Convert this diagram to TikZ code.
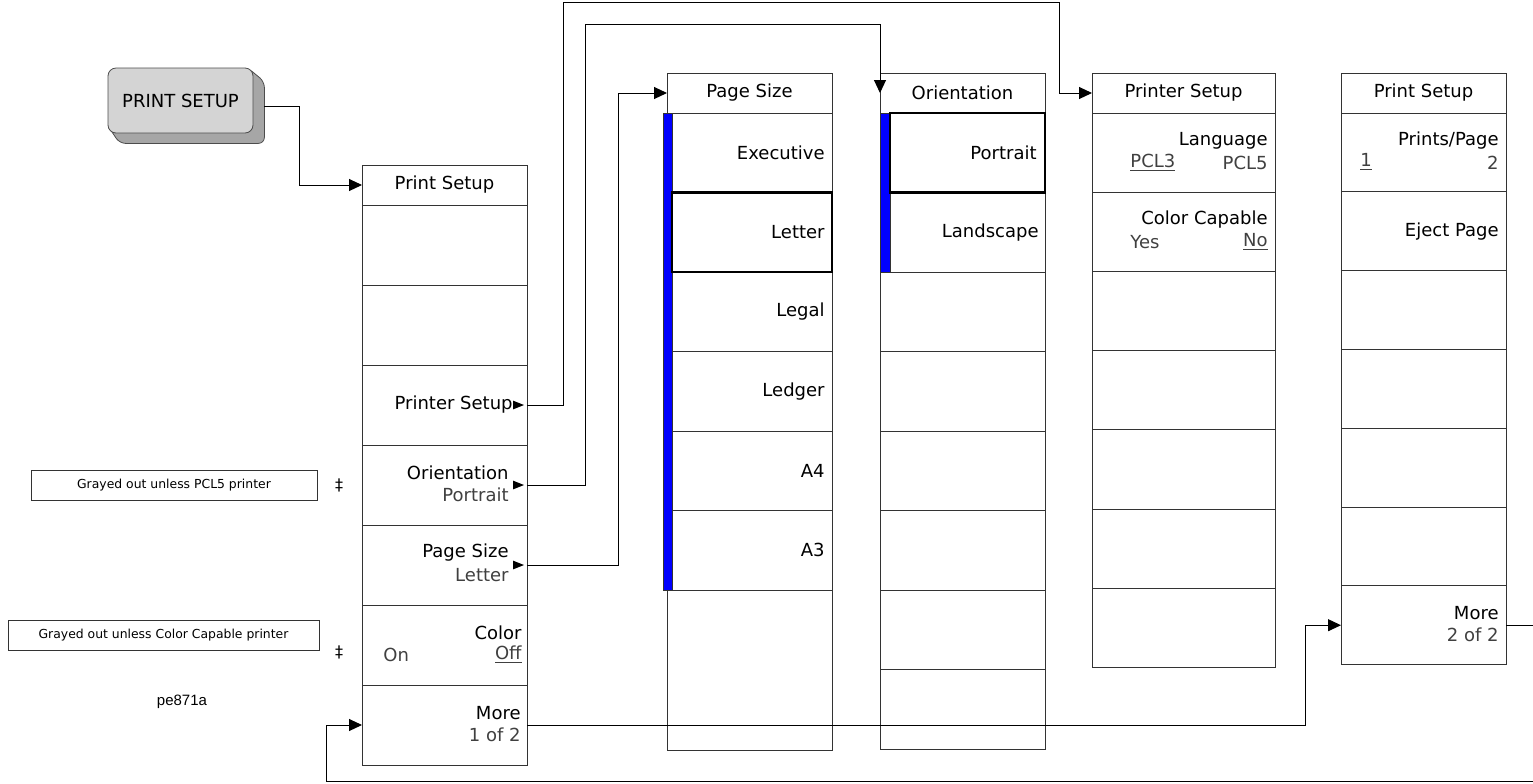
\documentclass[tikz,border=0pt]{standalone}
\usepackage{fontspec}
\setmainfont{DejaVu Sans}
\newfontfamily\figfont{Liberation Sans}
\usepackage{tikz}
\usetikzlibrary{arrows.meta, positioning, backgrounds}

\definecolor{keyface}{HTML}{D4D4D4}
\definecolor{keyshade}{HTML}{A6A6A6}
\definecolor{activebar}{HTML}{0000FF}

\newcommand{\submark}[1]{\fill (#1) -- ++(-5.5pt,2.2pt) -- ++(0,-4.4pt) -- cycle;}

\begin{document}
\begin{tikzpicture}[
      x=0.5pt, y=-0.5pt,
      >={Triangle[length=6.5pt, width=6pt]},
      keyfont/.style={font=\fontsize{9}{10}\selectfont},
      menuhead/.style={
        rectangle, draw=black!80, line width=0.5pt, keyfont, outer sep=0pt,
        minimum width=82.5pt, minimum height=20pt, inner sep=0pt
      },
      softkey/.style={
        rectangle, draw=black!80, line width=0.5pt, outer sep=0pt,
        minimum width=82.5pt, minimum height=40pt, inner sep=0pt
      },
      keytitle/.style={anchor=east, inner sep=0pt, keyfont},
      keyvalue/.style={anchor=east, inner sep=0pt, keyfont, text=black!75},
      keyleft/.style={keyvalue, anchor=west},
      hardkey/.style={
        rectangle, rounded corners=4pt, draw=black!70, fill=keyface,
        minimum width=72.5pt, minimum height=32.5pt, keyfont
      },
      note/.style={
        draw=black!80, line width=0.5pt, minimum height=15pt, inner sep=0pt,
        font=\fontsize{6.2}{7}\selectfont
      },
      dagger/.style={inner sep=0pt, font=\fontsize{8}{9}\selectfont},
      link/.style={->, line width=0.5pt}
    ]
    \useasboundingbox (0,0) rectangle (1533,783);

    % front panel key
    \node[hardkey] (btn) at (180.5,100.5) {PRINT SETUP};
    \begin{scope}[on background layer]
      \filldraw[fill=keyshade, draw=black!70, rounded corners=3pt]
        ([xshift=-3pt]btn.north east) -- ([xshift=5.5pt,yshift=-7pt]btn.north east)
        -- ([xshift=5.5pt,yshift=-5pt]btn.south east) -- ([xshift=6pt,yshift=-5pt]btn.south west)
        -- ([yshift=4pt]btn.south west) -- cycle;
    \end{scope}

    % menus
    \node[menuhead] (psa0) at (444.5,185) {Print Setup};
    \foreach \i [count=\j from 0] in {1,...,7}
      \node[softkey, below=0pt of psa\j] (psa\i) {};

    \node[menuhead] (pgs0) at (749.5,93) {Page Size};
    \foreach \i [count=\j from 0] in {1,...,6}
      \node[softkey, minimum height=39.75pt, below=0pt of pgs\j] (pgs\i) {};
    \node[softkey, minimum height=80pt, below=0pt of pgs6] (pgs7) {};

    \node[menuhead] (ori0) at (962.5,93) {Orientation};
    \foreach \i [count=\j from 0] in {1,...,8}
      \node[softkey, minimum height=39.75pt, below=0pt of ori\j] (ori\i) {};

    \node[menuhead, minimum width=91.5pt] (prs0) at (1183.5,93) {Printer Setup};
    \foreach \i [count=\j from 0] in {1,...,7}
      \node[softkey, minimum width=91.5pt, minimum height=39.6pt, below=0pt of prs\j] (prs\i) {};

    \node[menuhead] (psb0) at (1423.5,93) {Print Setup};
    \foreach \i [count=\j from 0] in {1,...,7}
      \node[softkey, minimum height=39.4pt, below=0pt of psb\j] (psb\i) {};

    % active choices
    \filldraw[fill=activebar, draw=black!80, line width=0.4pt]
      ([xshift=-2pt]pgs1.north west) rectangle ([xshift=2.5pt]pgs6.south west);
    \filldraw[fill=activebar, draw=black!80, line width=0.4pt]
      (ori1.north west) rectangle ([xshift=5pt]ori2.south west);
    \draw[line width=1.2pt] ([xshift=2.5pt]pgs2.north west) rectangle (pgs2.south east);
    \draw[line width=1.2pt] ([xshift=5pt]ori1.north west) rectangle (ori1.south east);

    % key labels
    \node[keytitle] (psal3) at ([xshift=-7pt]psa3.east) {Printer Setup};
    \node[keytitle] (psal4) at ([xshift=-9pt,yshift=6pt]psa4.east) {Orientation};
    \node[keyvalue] (psav4) at ([xshift=-9pt,yshift=-5pt]psa4.east) {Portrait};
    \node[keytitle] (psal5) at ([xshift=-9pt,yshift=6pt]psa5.east) {Page Size};
    \node[keyvalue] (psav5) at ([xshift=-9pt,yshift=-5pt]psa5.east) {Letter};
    \node[keytitle] (psal6) at ([xshift=-2.5pt,yshift=6pt]psa6.east) {Color};
    \node[keyleft]  (psaw6) at ([xshift=10.5pt,yshift=-5pt]psa6.west) {On};
    \node[keyvalue] (psav6) at ([xshift=-2.5pt,yshift=-5pt]psa6.east) {\underline{Off}};
    \node[keytitle] (psal7) at ([xshift=-3pt,yshift=6pt]psa7.east) {More};
    \node[keyvalue] (psav7) at ([xshift=-3pt,yshift=-5pt]psa7.east) {1 of 2};
    \submark{[xshift=-1.5pt]psa3.east}
    \submark{[xshift=-1.5pt]psa4.east}
    \submark{[xshift=-1.5pt]psa5.east}

    \foreach \i/\t in {1/Executive, 2/Letter, 3/Legal, 4/Ledger, 5/A4, 6/A3}
      \node[keytitle] (pgsl\i) at ([xshift=-3.5pt]pgs\i.east) {\t};

    \node[keytitle] (oril1) at ([xshift=-4pt]ori1.east) {Portrait};
    \node[keytitle] (oril2) at ([xshift=-3pt]ori2.east) {Landscape};

    \node[keytitle] (prsl1) at ([xshift=-3.5pt,yshift=6pt]prs1.east) {Language};
    \node[keyleft]  (prsw1) at ([xshift=19pt,yshift=-5pt]prs1.west) {\underline{PCL3}};
    \node[keyvalue] (prsv1) at ([xshift=-3.5pt,yshift=-5pt]prs1.east) {PCL5};
    \node[keytitle] (prsl2) at ([xshift=-3.5pt,yshift=6pt]prs2.east) {Color Capable};
    \node[keyleft]  (prsw2) at ([xshift=19pt,yshift=-5pt]prs2.west) {Yes};
    \node[keyvalue] (prsv2) at ([xshift=-3.5pt,yshift=-5pt]prs2.east) {\underline{No}};

    \node[keytitle] (psbl1) at ([xshift=-3.5pt,yshift=6pt]psb1.east) {Prints/Page};
    \node[keyleft]  (psbw1) at ([xshift=9.5pt,yshift=-5pt]psb1.west) {\underline{1}};
    \node[keyvalue] (psbv1) at ([xshift=-3.5pt,yshift=-5pt]psb1.east) {2};
    \node[keytitle] (psbl2) at ([xshift=-3.5pt]psb2.east) {Eject Page};
    \node[keytitle] (psbl7) at ([xshift=-3.5pt,yshift=6pt]psb7.east) {More};
    \node[keyvalue] (psbv7) at ([xshift=-3.5pt,yshift=-5pt]psb7.east) {2 of 2};

    % notes
    \node[note, minimum width=143pt] (pclnote) at (174,485) {Grayed out unless PCL5 printer};
    \node[dagger] (pcldag) at (339,485) {‡};
    \node[note, minimum width=155.5pt] (colnote) at (163.5,635) {Grayed out unless Color Capable printer};
    \node[dagger] (coldag) at (339,652) {‡};
    \node[font=\figfont\fontsize{7.5}{9}\selectfont, inner sep=0pt] (figid) at (182,702) {pe871a};

    % connectors
    \coordinate (jbtn) at (299,0);
    \coordinate (jprs) at (563,2);
    \coordinate (jprs2) at (1059,2);
    \coordinate (jori) at (585,24);
    \coordinate (jori2) at (880,24);
    \coordinate (jpgs) at (618,0);
    \coordinate (jmore) at (1305,0);
    \coordinate (jback) at (1545,781);
    \coordinate (jback2) at (326,781);

    \draw[link] ([xshift=5.5pt,yshift=-3pt]btn.east) -| (jbtn |- psa0.west) -- (psa0.west);
    \draw[link] (psa3.east) -| (jprs) -- (jprs2) |- (prs0.west);
    \draw[link] (psa4.east) -| (jori) -- (jori2) -- (ori0.west);
    \draw[link] (psa5.east) -| (jpgs |- pgs0.west) -- (pgs0.west);
    \draw[link] (psa7.east) -| (jmore |- psb7.west) -- (psb7.west);
    \draw[link] (psb7.east) -| (jback) -- (jback2) |- (psa7.west);
  \end{tikzpicture}
\end{document}
